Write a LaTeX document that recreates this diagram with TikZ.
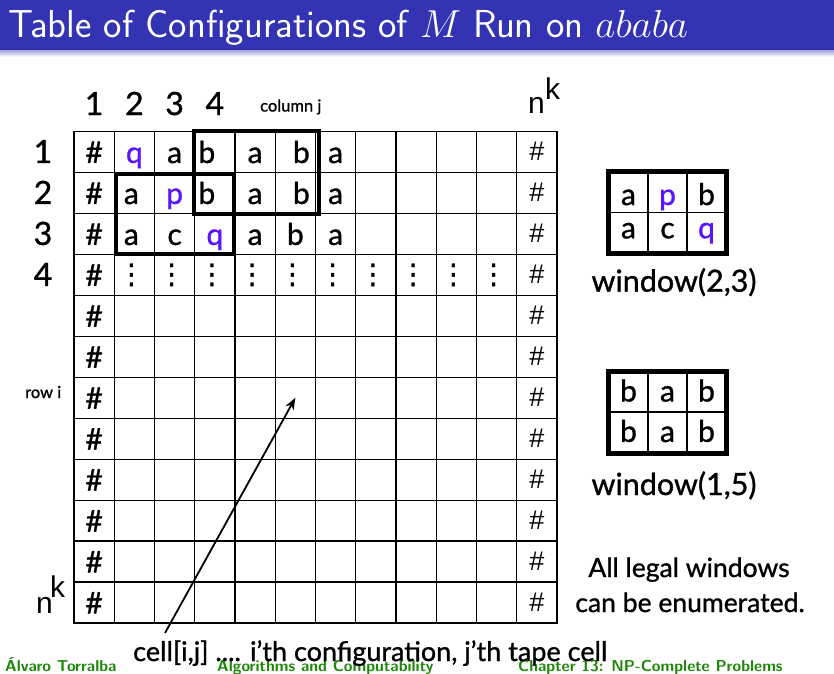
\RequirePackage{fix-cm}
\documentclass[tikz,border=0pt]{standalone}
\usepackage{fontspec}
\setmainfont{Lato}[FakeBold=1]
\newfontfamily\altfont{Liberation Sans}
\newfontfamily\dotfont{DejaVu Sans}[FakeBold=1.2]
\usetikzlibrary{arrows.meta,calc}
\definecolor{titleblue}{RGB}{51,51,179}
\definecolor{headblue}{RGB}{90,20,255}
\definecolor{footgreen}{RGB}{30,135,10}

\begin{document}
\begin{tikzpicture}[x=1pt,y=-1pt,
  cellbox/.style={draw, line width=1.3pt, minimum width=40.25pt, minimum height=40.96pt, inner sep=0pt},
  celltext/.style={inner sep=0pt, text height=22pt, text depth=0pt, font=\fontsize{30}{32}\selectfont},
  edgehash/.style={inner sep=0pt, text height=18pt, text depth=0pt, font=\altfont\fontsize{27}{29}\selectfont},
  dotstext/.style={inner sep=0pt, font=\dotfont\fontsize{28}{30}\selectfont},
  wincell/.style={draw, line width=1.3pt, minimum width=39pt, minimum height=40.2pt, inner sep=0pt, font=\fontsize{30}{32}\selectfont, text depth=0pt},
  wintext/.style={inner sep=0pt, text depth=0pt, font=\fontsize{30}{32}\selectfont},
  winframe/.style={line width=5pt},
  framebox/.style={line width=4pt},
  bigdigit/.style={anchor=base, inner sep=0pt, font=\fontsize{32}{34}\selectfont},
  smalltext/.style={anchor=base west, inner sep=0pt, font=\fontsize{16.5}{18}\selectfont},
  label/.style={anchor=base, inner sep=0pt, font=\fontsize{30.5}{32}\selectfont},
  powertext/.style={anchor=base west, inner sep=0pt, font=\altfont\fontsize{30}{32}\selectfont},
  foot/.style={anchor=base west, inner sep=0pt, text=footgreen, font=\sffamily\bfseries\fontsize{15.8}{17}\selectfont},
  pointer/.style={line width=1.8pt, -{Stealth[length=12pt,width=9pt]}}
]
\useasboundingbox (0,0) rectangle (834,673);
\fill[white] (0,0) rectangle (834,673);

% title bar
\fill[titleblue] (0,0) rectangle (834,50);
\shade[top color=titleblue!45, bottom color=white] (0,50) rectangle (834,57);
\node[anchor=base west, inner sep=0pt, text=white, font=\sffamily\fontsize{39}{41}\selectfont] (title) at (8,37) {Table of Configurations of $M$ Run on $ababa$};

% footer
\node[foot] (author) at (5,671) {Álvaro Torralba};
\node[foot] (course) at (217,671) {Algorithms and Computability};
\node[foot] (chapter) at (518,671) {Chapter 13: NP-Complete Problems};

% the 12 x 12 table of configurations
\foreach \r in {1,...,12}
  \foreach \c in {1,...,12}
    \node[cellbox] (c-\r-\c) at ({74+(\c-0.5)*40.25},{131.5+(\r-0.5)*40.96}) {};

% left border symbols
\foreach \r in {1,...,12}
  \node[celltext] (t-\r-1) at (c-\r-1) {\#};
% right border symbols
\foreach \r in {1,...,12}
  \node[edgehash] (t-\r-12) at (c-\r-12) {\#};

% first three configurations
\foreach \r/\c/\s/\dx/\col in {
  1/2/q/0/headblue, 1/3/a/0/black, 1/4/b/-8/black, 1/5/a/0/black, 1/6/b/6/black, 1/7/a/0/black,
  2/2/a/-3/black, 2/3/p/0/headblue, 2/4/b/-8/black, 2/5/a/0/black, 2/6/b/6/black, 2/7/a/0/black,
  3/2/a/-3/black, 3/3/c/0/black, 3/4/q/0/headblue, 3/5/a/0/black, 3/6/b/0/black, 3/7/a/0/black}
  \node[celltext, text=\col] (t-\r-\c) at ($(c-\r-\c)+(\dx,0)$) {\s};

% continuation dots
\foreach \c in {2,...,11}
  \node[dotstext] (t-4-\c) at ($(c-4-\c)+(-3,0)$) {⋮};

% highlighted windows inside the table
\draw[framebox] (c-1-4.north west) rectangle ($(c-2-6.south east)+(3,0)$);
\draw[framebox] ($(c-2-2.north west)+(2.5,2.5)$) rectangle ($(c-3-4.south east)+(-1.5,-1.5)$);

% column and row headings
\foreach \c in {1,...,4}
  \node[bigdigit] (h-\c) at ({74+(\c-0.5)*40.25},115) {\c};
\foreach \r in {1,...,4}
  \node[bigdigit] (v-\r) at ({43},{131.5+(\r-0.5)*40.96+11}) {\r};
\node[smalltext] (colj) at (260,111.5) {column j};
\node[smalltext] (rowi) at (25,398) {row i};
\node[powertext] (nt) at (528,113) {n};
\node[powertext] (kt) at (545,99) {k};
\node[powertext] (nb) at (36,613) {n};
\node[powertext] (kb) at (50,597) {k};

% window(2,3)
\foreach \r in {1,2}
  \foreach \c in {1,2,3}
    \node[wincell] (wa-\r-\c) at ({609+(\c-0.5)*39},{172.5+(\r-0.5)*40}) {};
\foreach \c/\s/\col in {1/a/black,2/p/headblue,3/b/black}
  \node[wintext, text height=25pt, text=\col] (wa-t-1-\c) at (wa-1-\c) {\s};
\foreach \c/\s/\col in {1/a/black,2/c/black,3/q/headblue}
  \node[wintext, text height=11.6pt, text=\col] (wa-t-2-\c) at (wa-2-\c) {\s};
\draw[winframe] (wa-1-1.north west) rectangle (wa-2-3.south east);
\node[label] (wa-label) at (674,291.7) {window(2,3)};

% window(1,5)
\foreach \r in {1,2}
  \foreach \c/\s in {1/b,2/a,3/b}
    \node[wincell, minimum height=40.4pt, text height=19.2pt] (wb-\r-\c) at ({609+(\c-0.5)*39},{371.7+(\r-0.5)*40.4}) {\s};
\draw[winframe] (wb-1-1.north west) rectangle (wb-2-3.south east);
\node[label] (wb-label) at (674,495) {window(1,5)};

% note on the right
\node[label, font=\fontsize{26.5}{28}\selectfont] (legal1) at (689,577) {All legal windows};
\node[label, font=\fontsize{26.5}{28}\selectfont] (legal2) at (690,612) {can be enumerated.};

% cell pointer
\node[anchor=base west, inner sep=0pt, font=\fontsize{27}{29}\selectfont] (celltxt) at (133,661) {cell[i,j] .... i'th configuration, j'th tape cell};
\coordinate (tail) at (165,633);
\draw[pointer] (tail) -- (c-7-6.center);
\end{tikzpicture}
\end{document}
